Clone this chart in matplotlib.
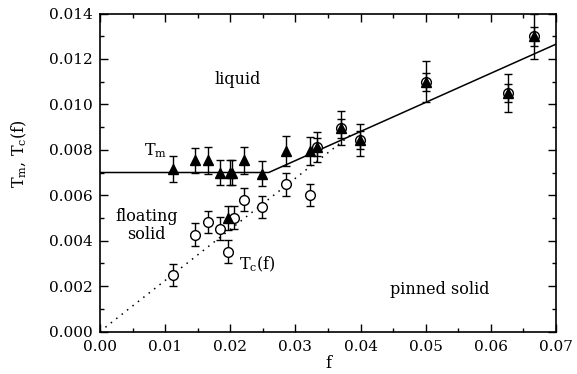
import matplotlib.pyplot as plt
from matplotlib.ticker import MultipleLocator, FormatStrFormatter

plt.rcParams['font.family'] = ['DejaVu Serif']
plt.rcParams['mathtext.fontset'] = 'dejavuserif'

# melting temperature T_m (filled triangles)
f_tm = [0.0112, 0.0146, 0.0166, 0.0184, 0.0199, 0.0203, 0.0221, 0.0248, 0.0197,
        0.0286, 0.0322, 0.0333, 0.0370, 0.0399, 0.0500, 0.0626, 0.0667]
t_tm = [0.00716, 0.00754, 0.00754, 0.00698, 0.00698, 0.00698, 0.00754, 0.00695, 0.00500,
        0.00794, 0.00794, 0.00813, 0.00894, 0.00842, 0.01100, 0.01050, 0.01299]
e_tm = [0.00057, 0.00055, 0.00060, 0.00055, 0.00055, 0.00055, 0.00060, 0.00054, 0.00052,
        0.00066, 0.00062, 0.00065, 0.00075, 0.00070, 0.00090, 0.00085, 0.00100]

# crossover temperature T_c(f) (open circles)
f_tc = [0.0112, 0.0146, 0.0166, 0.0184, 0.0197, 0.0205, 0.0221, 0.0248, 0.0286, 0.0322,
        0.0333, 0.0370, 0.0399, 0.0500, 0.0626, 0.0667]
t_tc = [0.00249, 0.00426, 0.00482, 0.00453, 0.00352, 0.00501, 0.00581, 0.00548, 0.00648,
        0.00600, 0.00813, 0.00894, 0.00842, 0.01100, 0.01050, 0.01299]
e_tc = [0.00050, 0.00050, 0.00050, 0.00050, 0.00050, 0.00050, 0.00050, 0.00048, 0.00050,
        0.00048, 0.00040, 0.00040, 0.00040, 0.00040, 0.00040, 0.00040]

# guide lines
f_solid = [0.0, 0.0259, 0.07]
t_solid = [0.0070, 0.0070, 0.01265]
f_dot = [0.0, 0.0385]
t_dot = [0.0, 0.00866]

fig = plt.figure(figsize=(5.77, 3.74), dpi=100)
ax = fig.add_axes([0.1733, 0.1136, 0.7903, 0.8503])

ax.plot(f_solid, t_solid, color='black', linewidth=1.1, zorder=2)
ax.plot(f_dot, t_dot, color='black', linewidth=1.1, linestyle=(0, (1, 3.5)), zorder=2)

ax.errorbar(f_tc, t_tc, yerr=e_tc, fmt='o', markersize=7, markerfacecolor='white',
            markeredgecolor='black', markeredgewidth=1.0, ecolor='black',
            elinewidth=1.0, capsize=3, capthick=1.0, zorder=3)
ax.errorbar(f_tm, t_tm, yerr=e_tm, fmt='^', markersize=7, markerfacecolor='black',
            markeredgecolor='black', ecolor='black', elinewidth=1.0,
            capsize=3, capthick=1.0, zorder=4)

# region / curve labels
ax.text(0.0212, 0.0111, 'liquid', fontsize=11.5, ha='center', va='center')
ax.text(0.0086, 0.00797, r'T$_\mathrm{m}$', fontsize=11.5, ha='center', va='center')
ax.text(0.0071, 0.00468, 'floating\nsolid', fontsize=11.5, ha='center', va='center',
        linespacing=1.1)
ax.text(0.0241, 0.00294, r'T$_\mathrm{c}$(f)', fontsize=11.5, ha='center', va='center')
ax.text(0.0521, 0.00185, 'pinned solid', fontsize=11.5, ha='center', va='center')

ax.set_xlim(0.0, 0.07)
ax.set_ylim(0.0, 0.014)
ax.xaxis.set_major_locator(MultipleLocator(0.01))
ax.xaxis.set_minor_locator(MultipleLocator(0.005))
ax.yaxis.set_major_locator(MultipleLocator(0.002))
ax.yaxis.set_minor_locator(MultipleLocator(0.001))
ax.xaxis.set_major_formatter(FormatStrFormatter('%.2f'))
ax.yaxis.set_major_formatter(FormatStrFormatter('%.3f'))
ax.tick_params(which='both', direction='in', top=True, right=True, labelsize=11,
               width=1.0)
ax.tick_params(axis='x', pad=6)
ax.tick_params(axis='y', pad=5)
ax.tick_params(which='major', length=6)
ax.tick_params(which='minor', length=3)
for s in ax.spines.values():
    s.set_linewidth(1.2)

ax.set_xlabel('f', fontsize=11.5)
ax.set_ylabel(r'T$_\mathrm{m}$, T$_\mathrm{c}$(f)', fontsize=11.5)
ax.xaxis.set_label_coords(0.5, -0.075)
ax.yaxis.set_label_coords(-0.155, 0.56)

fig.savefig('out.png', dpi=100, facecolor='white')
